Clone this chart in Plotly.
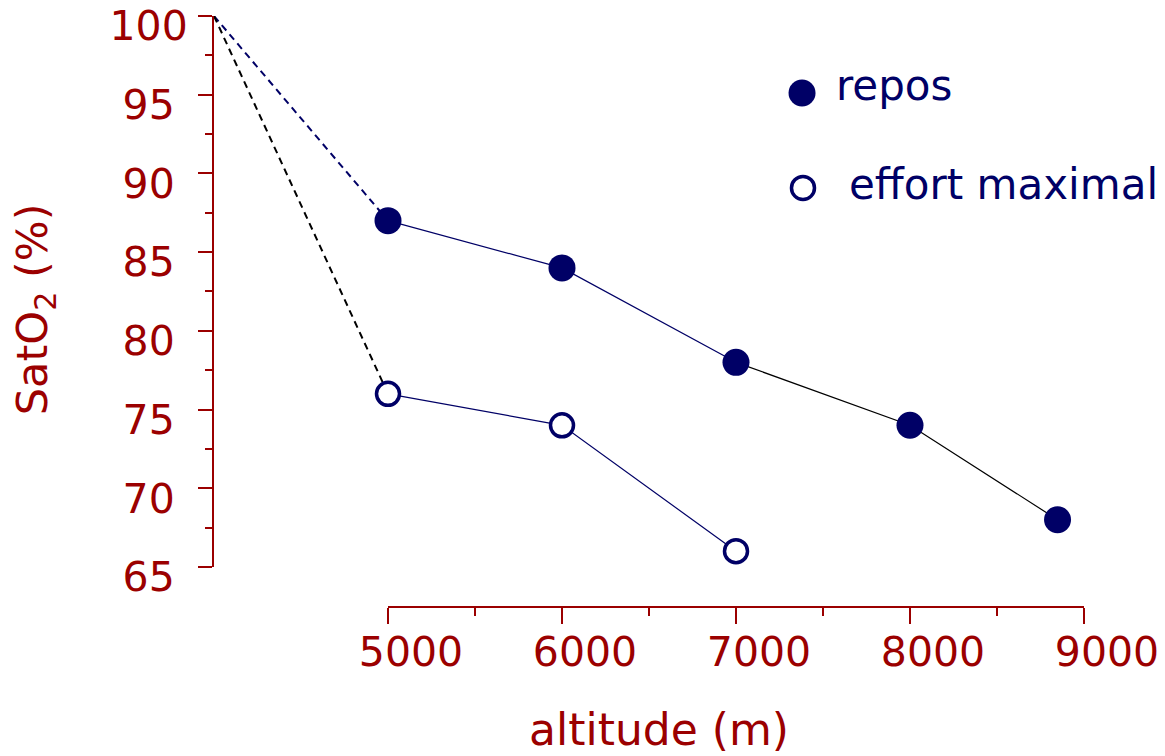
import plotly.graph_objects as go

# ---- data ----
alt_repos = [5000, 6000, 7000, 8000, 8848]
sat_repos = [87, 84, 78, 74, 68]
alt_effort = [5000, 6000, 7000]
sat_effort = [76, 74, 66]
origin_alt = [4000]
origin_sat = [100]

x_tick_vals = [5000, 6000, 7000, 8000, 9000]
x_tick_labels = ["5000", "6000", "7000", "8000", "9000"]
y_tick_vals = [65, 70, 75, 80, 85, 90, 95, 100]
y_tick_labels = ["65\u2008", "70\u2008", "75\u2008", "80\u2008", "85\u2008", "90\u2008", "95\u2008", "100"]

NAVY = "#000066"
RED = "#9b0000"
FONT = "DejaVu Sans"

fig = go.Figure()

# invisible trace so that the detached x axis (x2) is drawn
fig.add_trace(go.Scatter(x=x_tick_vals[:1], y=[None], xaxis="x2", yaxis="y", mode="markers",
                         marker=dict(opacity=0), showlegend=False, hoverinfo="skip"))

# dashed extrapolation lines
fig.add_trace(go.Scatter(x=origin_alt + alt_repos[:1], y=origin_sat + sat_repos[:1], mode="lines",
                         line=dict(color=NAVY, width=2, dash="7px,5px"), showlegend=False, cliponaxis=False))
fig.add_trace(go.Scatter(x=origin_alt + alt_effort[:1], y=origin_sat + sat_effort[:1], mode="lines",
                         line=dict(color="black", width=2, dash="7px,5px"), showlegend=False, cliponaxis=False))
# solid connecting lines
fig.add_trace(go.Scatter(x=alt_repos[:3], y=sat_repos[:3], mode="lines",
                         line=dict(color=NAVY, width=1.2), showlegend=False, cliponaxis=False))
fig.add_trace(go.Scatter(x=alt_repos[2:], y=sat_repos[2:], mode="lines",
                         line=dict(color="black", width=1.2), showlegend=False, cliponaxis=False))
fig.add_trace(go.Scatter(x=alt_effort, y=sat_effort, mode="lines",
                         line=dict(color=NAVY, width=1.2), showlegend=False, cliponaxis=False))
# markers
fig.add_trace(go.Scatter(x=alt_repos, y=sat_repos, mode="markers", name="repos",
                         marker=dict(symbol="circle", size=27, color=NAVY, line=dict(width=0)),
                         showlegend=False, cliponaxis=False))
fig.add_trace(go.Scatter(x=alt_effort, y=sat_effort, mode="markers", name="effort maximal",
                         marker=dict(symbol="circle", size=23, color="white", line=dict(width=3.5, color=NAVY)),
                         showlegend=False, cliponaxis=False))

# legend keys (drawn as layout shapes in paper space)
for (px, py, filled) in [(0.6759, 0.8697, True), (0.677, 0.709, False)]:
    r = 13.5 if filled else 11.5
    fig.add_shape(type="circle", xref="paper", yref="paper", xsizemode="pixel", ysizemode="pixel",
                  xanchor=px, yanchor=py, x0=-r, x1=r, y0=-r, y1=r,
                  fillcolor=NAVY if filled else "white",
                  line=dict(color=NAVY, width=0 if filled else 3.5))
fig.add_annotation(text="repos", xref="paper", yref="paper", x=0.7125, y=0.8832,
                   xanchor="left", yanchor="middle", showarrow=False,
                   font=dict(family=FONT, size=42, color=NAVY))
fig.add_annotation(text="effort maximal", xref="paper", yref="paper", x=0.7275, y=0.7149,
                   xanchor="left", yanchor="middle", showarrow=False,
                   font=dict(family=FONT, size=42, color=NAVY))

# axis titles
fig.add_annotation(text="altitude (m)", xref="paper", yref="paper", x=0.5115, y=-0.2081,
                   xanchor="center", yanchor="middle", showarrow=False,
                   font=dict(family=FONT, size=44, color=RED))
fig.add_annotation(text="SatO<sub>2</sub> (%)", xref="paper", yref="paper", x=-0.2057, y=0.504,
                   xanchor="center", yanchor="middle", showarrow=False, textangle=-90,
                   font=dict(family=FONT, size=43, color=RED))

fig.update_layout(
    width=1165, height=756,
    margin=dict(l=214, r=81, t=16, b=149, autoexpand=False),
    plot_bgcolor="rgba(0,0,0,0)", paper_bgcolor="white",
    font=dict(family=FONT, color=RED),
    showlegend=False,
    xaxis=dict(domain=[0, 1], range=[4000, 9000], anchor="free", position=0,
               showline=False, showgrid=False, zeroline=False, showticklabels=False, ticks=""),
    xaxis2=dict(domain=[0.2, 1], range=[5000, 9000], anchor="free", position=0,
                showline=True, linecolor=RED, linewidth=2, showgrid=False, zeroline=False,
                tickmode="array", tickvals=x_tick_vals, ticktext=x_tick_labels,
                ticks="outside", ticklen=16, tickwidth=2, tickcolor=RED,
                ticklabelshift=23, ticklabelstandoff=-7,
                tickfont=dict(family=FONT, size=41, color=RED),
                minor=dict(dtick=500, ticks="outside", ticklen=8, tickwidth=2, tickcolor=RED, showgrid=False)),
    yaxis=dict(domain=[0.0677, 1], range=[64.999, 100.001],
               showline=True, linecolor=RED, linewidth=2, showgrid=False, zeroline=False,
               tickmode="array", tickvals=y_tick_vals, ticktext=y_tick_labels,
               ticks="outside", ticklen=14, tickwidth=2, tickcolor=RED,
               ticklabelshift=10, ticklabelstandoff=2,
               ticklabeloverflow="allow",
               tickfont=dict(family=FONT, size=41, color=RED),
               minor=dict(dtick=2.5, tick0=65, ticks="outside", ticklen=7, tickwidth=2, tickcolor=RED, showgrid=False)),
)

fig.write_html("out.html")
